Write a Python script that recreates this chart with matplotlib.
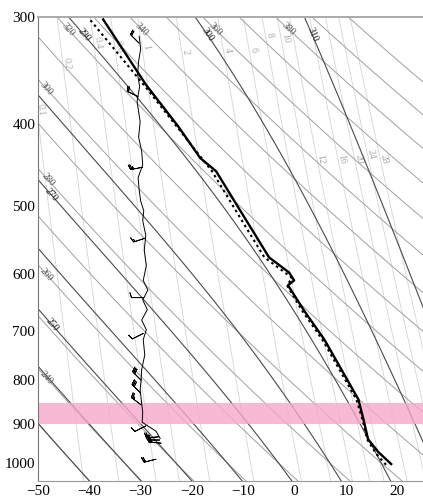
import numpy as np
import matplotlib.pyplot as plt

plt.rcParams['font.family'] = ['Liberation Serif', 'DejaVu Serif']

# sounding (pressure hPa, temperature degC)
p_temp = [1003, 971, 938, 889, 842, 777, 717, 665, 619, 611, 598, 574, 534, 506, 455, 439, 403, 360, 302]
t_temp = [18.8, 16.3, 14.3, 13.4, 12.4, 9.1, 5.8, 2.0, -1.3, -0.1, -1.1, -5.0, -8.2, -10.6, -15.3, -18.4, -22.7, -29.0, -37.3]

p_dots = [1005, 976, 938, 889, 842, 777, 717, 665, 619, 607, 598, 574, 534, 455, 364, 302]
t_dots = [17.8, 15.9, 14.1, 13.2, 12.0, 8.7, 5.4, 1.6, -1.5, -0.5, -1.9, -5.9, -9.1, -16.1, -28.8, -39.9]

# thin ragged trace near -30
p_trace = [316, 327, 338, 350, 362, 377, 398, 415, 431, 447, 463, 478, 493, 506, 520, 541, 563,
           587, 611, 627, 644, 661, 680, 698, 717, 747, 777, 798, 820, 842, 872, 896, 918, 936]
t_trace = [-30.3, -30.0, -30.4, -30.6, -30.2, -30.7, -30.1, -30.4, -29.8, -29.6, -30.5, -30.3, -30.0,
           -29.4, -29.6, -29.0, -29.3, -28.9, -29.5, -28.6, -29.6, -28.7, -29.8, -28.9, -29.5, -29.2,
           -29.8, -29.9, -30.1, -29.9, -29.6, -29.7, -27.0, -26.2]

# wind barbs along the trace
barb_p = [322, 372, 450, 545, 640, 705, 800, 828, 855, 905, 932, 940, 948, 990]
barb_t = [-30.3, -30.5, -29.6, -29.1, -29.4, -29.5, -29.9, -30.0, -29.9, -29.0, -26.5, -26.3, -26.0, -27.0]
barb_u = [15, 20, 25, 15, 10, 10, 20, 20, 20, 10, 25, 30, 25, 20]
barb_v = [-15, -10, 5, 5, 0, 5, -20, -20, -15, 5, 2, 0, -2, 5]

theta_dry = np.arange(230, 401, 10)
theta_w = np.arange(230, 311, 10)
mix_ratio = [0.1, 0.2, 0.4, 0.6, 1, 2, 4, 6, 8, 10, 12, 16, 20, 24, 28]
mix_label_p = [385, 340, 322, 325, 325, 330, 328, 328, 315, 318, 440, 440, 440, 435, 440]
dry_labels = [240, 260, 280, 300, 320, 340, 360, 380]
wet_labels = [250, 270, 290, 300, 310]

band = (850, 900)
XMIN, XMAX = -50, 25
PTOP, PBOT = 300, 1050

RD, CP, LV, EPS = 287.04, 1004.6, 2.501e6, 0.622


def sat_vap(tc):
    return 6.112 * np.exp(17.67 * tc / (tc + 243.5))


def pseudo_adiabat(t1000, p):
    # integrate dT/dlnp from 1000 hPa up and down
    def slope(tk, pp):
        es = sat_vap(tk - 273.15)
        rs = EPS * es / (pp - es)
        return (RD * tk + LV * rs) / (CP + LV ** 2 * rs * EPS / (RD * tk ** 2))
    out = np.empty_like(p)
    for i, pp in enumerate(p):
        tk = t1000 + 273.15
        lp = np.log(1000.0)
        n = 60
        h = (np.log(pp) - lp) / n
        for _ in range(n):
            k1 = slope(tk, np.exp(lp))
            k2 = slope(tk + h * k1 / 2, np.exp(lp + h / 2))
            k3 = slope(tk + h * k2 / 2, np.exp(lp + h / 2))
            k4 = slope(tk + h * k3, np.exp(lp + h))
            tk += h * (k1 + 2 * k2 + 2 * k3 + k4) / 6
            lp += h
        out[i] = tk - 273.15
    return out


def mixing_line(w, p):
    e = w * p / (622.0 + w)
    a = np.log(e / 6.112)
    return 243.5 * a / (17.67 - a)


def label_line(ax, t, p, text, color, size=7, skip=11):
    xy = ax.transData.transform(np.column_stack([t, p]))
    inside = (t >= XMIN) & (t <= XMAX) & (p >= PTOP) & (p <= PBOT)
    if not inside.any():
        return
    i0 = np.argmax(inside)
    d = np.cumsum(np.r_[0, np.hypot(*np.diff(xy[i0:], axis=0).T)])
    j = i0 + np.searchsorted(d, skip)
    if j + 1 >= len(t):
        return
    dx, dy = xy[j + 1] - xy[j]
    ang = np.degrees(np.arctan2(dy, dx))
    ax.text(t[j], p[j], text, color=color, fontsize=size, rotation=ang,
            rotation_mode='anchor', ha='center', va='center', zorder=3)


fig = plt.figure(figsize=(4.23, 4.99), dpi=100)
ax = fig.add_axes([38 / 423, 18 / 499, 385 / 423, 464 / 499])
ax.set_yscale('log')
ax.set_xlim(XMIN, XMAX)
ax.set_ylim(PBOT, PTOP)

pp = np.geomspace(280, 1080, 160)

for w in mix_ratio:
    td = mixing_line(w, pp)
    ax.plot(td, pp, color='#d4d4d4', lw=0.6, zorder=1)
for w, plab in zip(mix_ratio, mix_label_p):
    tl = mixing_line(w, np.array([plab, plab * 1.01]))
    xy = ax.transData.transform(np.column_stack([tl, [plab, plab * 1.01]]))
    ang = np.degrees(np.arctan2(*(xy[1] - xy[0])[::-1]))
    ax.text(tl[0] + 0.8, plab, f'{w:g}', color='#a8a8a8', fontsize=7, rotation=ang,
            rotation_mode='anchor', ha='center', va='center', zorder=1)

for th in theta_dry:
    td = th * (pp / 1000.0) ** 0.2857 - 273.15
    ax.plot(td, pp, color='#a0a0a0', lw=0.7, zorder=1.5)
    if th in dry_labels:
        label_line(ax, td, pp, str(th), '#555555')

pw = np.geomspace(280, 1080, 70)
for tw in theta_w:
    tm = pseudo_adiabat(tw - 273.15, pw)
    ax.plot(tm, pw, color='#4a4a4a', lw=0.8, zorder=1.6)
    if tw in wet_labels:
        label_line(ax, tm, pw, str(tw), '#222222')

ax.axhspan(*band, color='#f7a8ca', alpha=0.8, lw=0, zorder=2)

ax.plot(t_trace, p_trace, color='black', lw=0.7, zorder=4)
ax.barbs(barb_t, barb_p, barb_u, barb_v, length=4.2, lw=0.6, color='black', zorder=4)
ax.plot(t_temp, p_temp, color='black', lw=1.7, zorder=5)
ax.plot(t_dots, p_dots, color='black', lw=1.5, ls=(0, (1.2, 1.6)), zorder=5)

ax.set_yticks([300, 400, 500, 600, 700, 800, 900, 1000])
ax.set_yticklabels(['300', '400', '500', '600', '700', '800', '900', '1000'])
ax.yaxis.set_minor_locator(plt.NullLocator())
ax.set_xticks([-50, -40, -30, -20, -10, 0, 10, 20])
ax.tick_params(length=0, pad=3, labelsize=11)
ax.tick_params(axis='y', pad=2)

ax.spines['right'].set_visible(False)
ax.spines['top'].set_color('#aaaaaa')
ax.spines['top'].set_linewidth(1.4)
ax.spines['bottom'].set_color('#999999')
ax.spines['left'].set_color('#777777')
ax.spines['left'].set_linewidth(0.8)

fig.savefig('out.png', dpi=100)
